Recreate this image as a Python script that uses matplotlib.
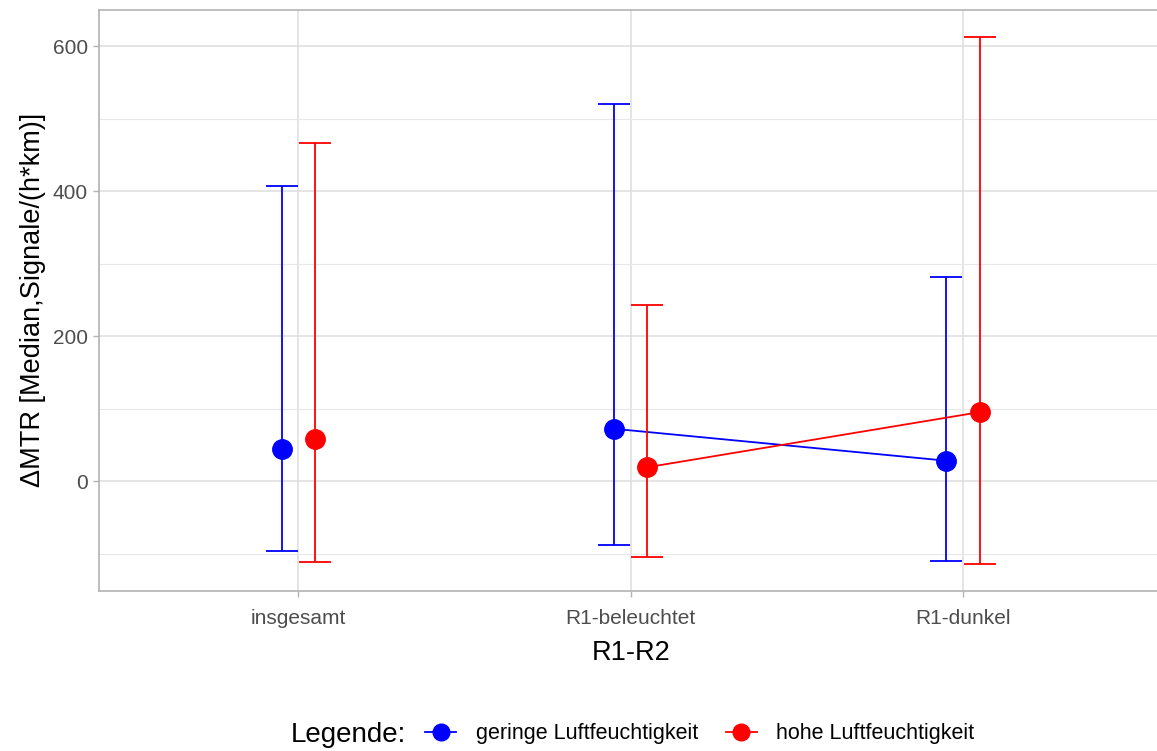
import numpy as np
import matplotlib.pyplot as plt
from matplotlib.lines import Line2D

plt.rcParams['font.family'] = ['Liberation Sans', 'DejaVu Sans']

# data
categories = ['insgesamt', 'R1-beleuchtet', 'R1-dunkel']
groups = ['geringe Luftfeuchtigkeit', 'hohe Luftfeuchtigkeit']
colors = ['#0000FF', '#FF0000']
medians = {
    'geringe Luftfeuchtigkeit': [44, 72, 28],
    'hohe Luftfeuchtigkeit': [58, 19, 95],
}
lower = {
    'geringe Luftfeuchtigkeit': [-97, -88, -110],
    'hohe Luftfeuchtigkeit': [-112, -105, -114],
}
upper = {
    'geringe Luftfeuchtigkeit': [407, 520, 281],
    'hohe Luftfeuchtigkeit': [466, 243, 612],
}
offsets = [-0.05, 0.05]

fig = plt.figure(figsize=(11.57, 7.51), dpi=100)
ax = fig.add_axes([99 / 1157, 1 - 590.7 / 751, (1162.5 - 99) / 1157, (590.7 - 10) / 751])

x = np.arange(1, len(categories) + 1)
for g, c, off in zip(groups, colors, offsets):
    xs = x + off
    m = np.array(medians[g])
    lo = np.array(lower[g])
    hi = np.array(upper[g])
    ax.errorbar(xs, m, yerr=[m - lo, hi - m], fmt='none', ecolor=c,
                elinewidth=1.3, capsize=11.5, capthick=1.3, zorder=3)
    # lines only between the R1 categories
    ax.plot(xs[1:], m[1:], color=c, lw=1.3, zorder=3)
    ax.plot(xs, m, 'o', color=c, ms=14, zorder=4)

ax.set_xlim(0.4, 3.6)
ax.set_ylim(-151.3, 649.7)
ax.set_xticks(x)
ax.set_xticklabels(categories)
ax.set_yticks([0, 200, 400, 600])
ax.set_yticks([-100, 100, 300, 500], minor=True)

ax.grid(True, which='major', color='#DEDEDE', lw=1.1)
ax.grid(True, which='minor', axis='y', color='#E8E8E8', lw=0.8)
ax.set_axisbelow(True)
for s in ax.spines.values():
    s.set_color('#B3B3B3')
    s.set_linewidth(1.2)
ax.tick_params(axis='both', which='major', colors='#B3B3B3', length=4, width=1,
               labelcolor='#4D4D4D', labelsize=15, pad=4)
ax.tick_params(axis='x', which='major', pad=9)
ax.tick_params(axis='y', which='minor', length=0)

ax.set_xlabel('R1-R2', fontsize=19.5, labelpad=9)
ax.set_ylabel('ΔMTR [Median,Signale/(h*km)]', fontsize=19.5, labelpad=5)

handles = [Line2D([], [], color=c, marker='o', ms=12, lw=1.3) for c in colors]
fig.text(291 / 1157, 1 - 735 / 751, 'Legende:', fontsize=20, va='center', ha='left')
fig.legend(handles, groups, loc='center left', bbox_to_anchor=(425 / 1157, 1 - 734 / 751),
           ncol=2, frameon=False, fontsize=15.5, handlelength=1.45, columnspacing=1.3,
           handletextpad=0.9, borderaxespad=0, borderpad=0)

fig.savefig('out.png', dpi=100)
